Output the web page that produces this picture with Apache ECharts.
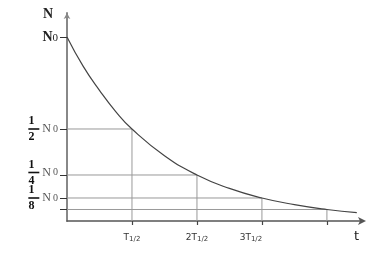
<!DOCTYPE html>
<html><head><meta charset="utf-8">
<script src="https://cdn.jsdelivr.net/npm/echarts@6/dist/echarts.min.js"></script>
<style>html,body{margin:0;padding:0;background:#fff}#c{width:372px;height:254px}</style>
</head><body><div id="c"></div>
<script>
// decay curve (t in half-lives, N/N0)
var curveT = [0, 0.25, 0.5, 0.75, 1, 1.5, 2, 2.5, 3, 3.5, 4, 4.46];
var curveN = [1, 0.84, 0.71, 0.595, 0.5, 0.355, 0.25, 0.177, 0.125, 0.089, 0.0625, 0.045];
// guide levels
var halfT = [1, 2, 3, 4];
var halfN = [0.5, 0.25, 0.125, 0.0625];
var yTickVals = [1, 0.5, 0.25, 0.125, 0.0625];
var yTickLabels = ['N0', '2', '4', '8', ''];
var xTickLabels = ['', '2', '3'];

var chart = echarts.init(document.getElementById('c'));
var series = [{
  type: 'line', smooth: true, symbol: 'none',
  data: curveT.map(function (t, i) { return [t, curveN[i]]; }),
  lineStyle: { color: '#444', width: 1.2 }, z: 5
}];
halfT.forEach(function (t, i) {
  series.push({
    type: 'line', symbol: 'none', silent: true,
    data: [[0, halfN[i]], [t, halfN[i]], [t, 0]],
    lineStyle: { color: '#999', width: 1 }, z: 3
  });
});
var frac = { fontFamily: 'Liberation Serif', fontWeight: 'bold', fontSize: 12, color: '#111', width: 11, align: 'center', lineHeight: 11 };
chart.setOption({
  animation: false,
  grid: { left: 67, top: 13, right: 10, bottom: 33 },
  xAxis: {
    type: 'value', min: 0, max: 4.54,
    splitLine: { show: false },
    axisLine: { lineStyle: { color: '#555', width: 1.5 }, symbol: ['none', 'arrow'], symbolSize: [6, 8], symbolOffset: [0, 4] },
    axisTick: { customValues: halfT, length: 4, inside: false, lineStyle: { color: '#444', width: 1.2 } },
    axisLabel: {
      customValues: [1, 2, 3], margin: 12,
      formatter: function (v) { return xTickLabels[v - 1] + 'T{s|1/2}' + (v === 3 ? '{pad|}' : ''); },
      fontFamily: 'DejaVu Sans', fontSize: 9, color: '#333',
      rich: {
        s: { fontFamily: 'DejaVu Sans', fontSize: 7, color: '#333', verticalAlign: 'bottom', padding: [3, 0, 0, 0] },
        pad: { width: 22 }
      }
    },
    name: 't', nameLocation: 'end', nameGap: -8,
    nameTextStyle: { fontFamily: 'DejaVu Sans', fontSize: 13, color: '#222', verticalAlign: 'top', padding: [9, 0, 0, 0] }
  },
  yAxis: {
    type: 'value', min: 0, max: 1.1304,
    splitLine: { show: false },
    axisLine: { lineStyle: { color: '#888', width: 2 }, symbol: ['none', 'arrow'], symbolSize: [5, 6] },
    axisTick: { customValues: yTickVals, length: 7, lineStyle: { color: '#333', width: 1 } },
    axisLabel: {
      customValues: yTickVals, margin: 9, lineHeight: 10,
      formatter: function (v) {
        var i = yTickVals.indexOf(v);
        if (i === 0) return '{no|N}{sub|0}';
        if (i === 4) return '';
        return '{n|1}{sp|}\n{bar|}{gap|}{no2|N}{sub2|0}\n{n|' + yTickLabels[i] + '}{sp|}' + (i === 2 ? '\n{sp2|}' : '');
      },
      rich: {
        n: frac,
        sp: { width: 21, lineHeight: 11 },
        sp2: { width: 21, lineHeight: 5 },
        gap: { width: 3, lineHeight: 5 },
        bar: { width: 9, height: 1.6, lineHeight: 5, backgroundColor: '#111', padding: [0, 1, 0, 1] },
        no: { fontFamily: 'Liberation Serif', fontSize: 14, fontWeight: 'bold', color: '#222', lineHeight: 14 },
        sub: { fontFamily: 'Liberation Serif', fontSize: 11, color: '#222', verticalAlign: 'bottom', lineHeight: 14, padding: [4, 0, 0, 0] },
        no2: { fontFamily: 'Liberation Serif', fontSize: 12, color: '#555', lineHeight: 5 },
        sub2: { fontFamily: 'Liberation Serif', fontSize: 10, color: '#555', lineHeight: 5, width: 7 }
      }
    },
    name: 'N', nameLocation: 'end', nameGap: -8,
    nameTextStyle: { fontFamily: 'Liberation Serif', fontSize: 14, fontWeight: 'bold', color: '#222', align: 'right', padding: [0, 14, 0, 0] }
  },
  series: series
});
</script></body></html>
